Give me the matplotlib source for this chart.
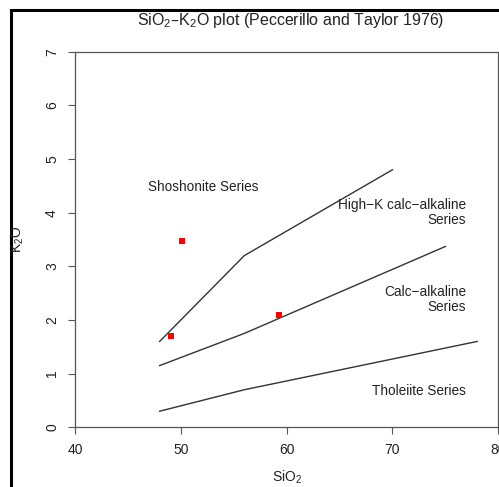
# SiO2-K2O classification plot (Peccerillo and Taylor 1976)

import matplotlib
matplotlib.use("Agg")
import matplotlib.pyplot as plt
from matplotlib.patches import Rectangle

plt.rcParams['font.family'] = ['Liberation Sans', 'DejaVu Sans']
plt.rcParams['mathtext.default'] = 'regular'

# boundary lines
shoshonite_x = [48, 56, 70]
shoshonite_y = [1.6, 3.2, 4.8]
highk_x = [48, 56, 75]
highk_y = [1.15, 1.75, 3.37]
tholeiite_x = [48, 56, 78]
tholeiite_y = [0.3, 0.7, 1.6]

# samples
sio2 = [50.1, 49.1, 59.3]
k2o = [3.48, 1.71, 2.09]

# field labels
field_names = ["Shoshonite Series", "High\u2212K calc\u2212alkaline\nSeries",
               "Calc\u2212alkaline\nSeries", "Tholeiite Series"]
field_x = [52.1, 76.95, 76.95, 76.95]
field_y = [4.48, 4.0, 2.39, 0.68]
field_ha = ["center", "right", "right", "right"]

xticks = [40, 50, 60, 70, 80]
yticks = [0, 1, 2, 3, 4, 5, 6, 7]

W, H = 499, 487
fig = plt.figure(figsize=(W / 100, H / 100), dpi=100)
ax = fig.add_axes([75 / W, (H - 427.3) / H, (498.3 - 75) / W, (427.3 - 51.7) / H])

line_col = '#333333'
ax.plot(shoshonite_x, shoshonite_y, color=line_col, lw=1.0)
ax.plot(highk_x, highk_y, color=line_col, lw=1.0)
ax.plot(tholeiite_x, tholeiite_y, color=line_col, lw=1.0)
ax.plot(sio2, k2o, 's', color='red', markersize=5, markeredgewidth=0)

for name, x, y, ha in zip(field_names, field_x, field_y, field_ha):
    ax.text(x, y, name, ha=ha, va='center', fontsize=9.8, color='#222222',
            multialignment='right' if ha == 'right' else 'center', linespacing=1.1)

ax.set_xlim(40, 80)
ax.set_ylim(0, 7)
ax.set_xticks(xticks)
ax.set_yticks(yticks)
ax.tick_params(axis='both', labelsize=10, colors='#555555', labelcolor='#222222',
               length=5, width=0.8, pad=6.5)
for lab in ax.get_yticklabels():
    lab.set_rotation(90)
    lab.set_va('center')
for sp in ax.spines.values():
    sp.set_color('#555555')
    sp.set_linewidth(0.9)

fig.text(287 / W, (H - 477) / H, "SiO$_2$", ha='center', va='center', fontsize=10, color='#222222')
fig.text(18 / W, (H - 239.5) / H, "K$_2$O", ha='center', va='center', fontsize=10,
         rotation=90, color='#222222')
fig.text(291 / W, (H - 21) / H, "SiO$_2$\u2013K$_2$O plot (Peccerillo and Taylor 1976)",
         ha='center', va='center', fontsize=11.5, color='#222222')

# black frame of the exported picture
fig.add_artist(Rectangle((10.5 / W, -0.1), 1.2, (H - 9.5) / H + 0.1,
                         transform=fig.transFigure, fill=False, lw=2.2, ec='black'))

fig.savefig("out.png", dpi=100)
